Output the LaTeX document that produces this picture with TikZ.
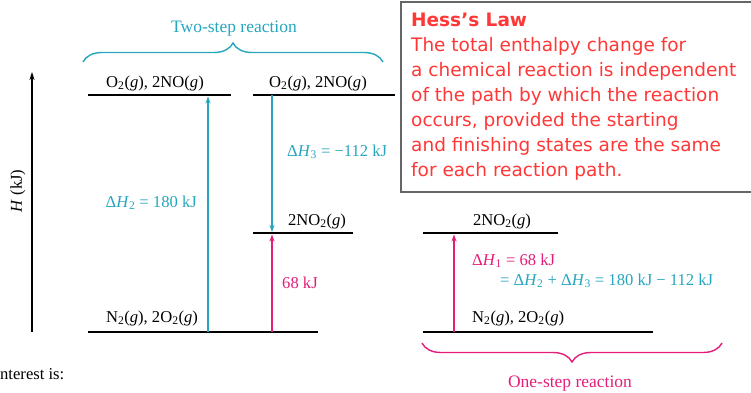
\documentclass[tikz,border=0pt]{standalone}
\usepackage{fontspec}
\setmainfont{Liberation Serif}
\newfontfamily\hessfont{DejaVu Sans}
\usetikzlibrary{arrows.meta,decorations.pathreplacing}
\definecolor{twoteal}{RGB}{38,166,190}
\definecolor{onepink}{RGB}{228,30,120}
\definecolor{hessred}{RGB}{255,55,55}

\begin{document}
\begin{tikzpicture}[x=1pt,y=-1pt,
  every node/.style={inner sep=0pt, font=\fontsize{16.6}{18}\selectfont},
  level/.style={line width=2.2pt},
  arr/.style={line width=1.3pt, -{Stealth[length=7pt,width=5pt]}},
  brc/.style={decorate, decoration={brace,amplitude=19pt,aspect=0.5}, line width=1.4pt}]
  \useasboundingbox (0,0) rectangle (751,392);
  % energy levels
  \coordinate (ta1) at (88,95);  \coordinate (ta2) at (231,95);
  \coordinate (tb1) at (253,95); \coordinate (tb2) at (395,95);
  \coordinate (ma1) at (253,233); \coordinate (ma2) at (353,233);
  \coordinate (ba1) at (88,332); \coordinate (ba2) at (318,332);
  \coordinate (ra1) at (423,233); \coordinate (ra2) at (558,233);
  \coordinate (rb1) at (423,332); \coordinate (rb2) at (653,332);
  \draw[level] (ta1) -- (ta2);
  \draw[level] (tb1) -- (tb2);
  \draw[level] (ma1) -- (ma2);
  \draw[level] (ba1) -- (ba2);
  \draw[level] (ra1) -- (ra2);
  \draw[level] (rb1) -- (rb2);
  % axis
  \coordinate (ax0) at (32,332); \coordinate (ax1) at (32,72);
  \draw[line width=1.2pt, -{Stealth[length=8pt,width=5pt]}] (ax0) -- (ax1);
  \node[rotate=90] (hk) at (18,191) {\textit{H} (kJ)};
  % arrows
  \coordinate (h2a) at (208,332); \coordinate (h2b) at (208,96.5);
  \coordinate (h3a) at (272,95);  \coordinate (h3b) at (272,232);
  \coordinate (h1a) at (272,332); \coordinate (h1b) at (272,234.5);
  \coordinate (r1a) at (454,332); \coordinate (r1b) at (454,234.5);
  \draw[arr, twoteal] (h2a) -- (h2b);
  \draw[arr, twoteal] (h3a) -- (h3b);
  \draw[arr, onepink] (h1a) -- (h1b);
  \draw[arr, onepink] (r1a) -- (r1b);
  % labels
  \node[anchor=base] (oa) at (155,87) {O\textsubscript{2}(\textit{g}), 2NO(\textit{g})};
  \node[anchor=base] (ob) at (318,87) {O\textsubscript{2}(\textit{g}), 2NO(\textit{g})};
  \node[anchor=base] (ma) at (317,225) {2NO\textsubscript{2}(\textit{g})};
  \node[anchor=base] (ra) at (502,225) {2NO\textsubscript{2}(\textit{g})};
  \node[anchor=base] (na) at (152,322) {N\textsubscript{2}(\textit{g}), 2O\textsubscript{2}(\textit{g})};
  \node[anchor=base west] (nb) at (472,322) {N\textsubscript{2}(\textit{g}), 2O\textsubscript{2}(\textit{g})};
  \node[anchor=base east, text=twoteal] (dh2) at (197,207) {Δ\textit{H}\textsubscript{2} = 180 kJ};
  \node[anchor=base west, text=twoteal] (dh3) at (287,156) {Δ\textit{H}\textsubscript{3} = −112 kJ};
  \node[anchor=base west, text=onepink] (k68) at (282,288) {68 kJ};
  \node[anchor=base west, text=onepink] (dh1) at (472,265) {Δ\textit{H}\textsubscript{1} = 68 kJ};
  \node[anchor=base west, text=twoteal] (sum) at (500,285) {= Δ\textit{H}\textsubscript{2} + Δ\textit{H}\textsubscript{3} = 180 kJ − 112 kJ};
  % braces
  \coordinate (tw1) at (83,62); \coordinate (tw2) at (383,62);
  \coordinate (on1) at (722,343); \coordinate (on2) at (422,343);
  \draw[brc, twoteal] (tw1) -- (tw2);
  \draw[brc, onepink] (on1) -- (on2);
  \node[anchor=base, text=twoteal, font=\fontsize{17.5}{19}\selectfont] (two) at (234,32) {Two-step reaction};
  \node[anchor=base, text=onepink, font=\fontsize{17.5}{19}\selectfont] (one) at (570,387) {One-step reaction};
  \node[anchor=base west] (cut) at (0,379) {nterest is:};
  % Hess's law box
  \draw[line width=1.3pt, draw=black!60, fill=white] (401,2) rectangle (760,192);
  \node[anchor=north west, align=left, text=hessred,
    font=\hessfont\fontsize{18.5}{25}\selectfont] (hess) at (411,13)
    {\textbf{Hess’s Law}\\
     The total enthalpy change for\\
     a chemical reaction is independent\\
     of the path by which the reaction\\
     occurs, provided the starting\\
     and finishing states are the same\\
     for each reaction path.};
\end{tikzpicture}
\end{document}
